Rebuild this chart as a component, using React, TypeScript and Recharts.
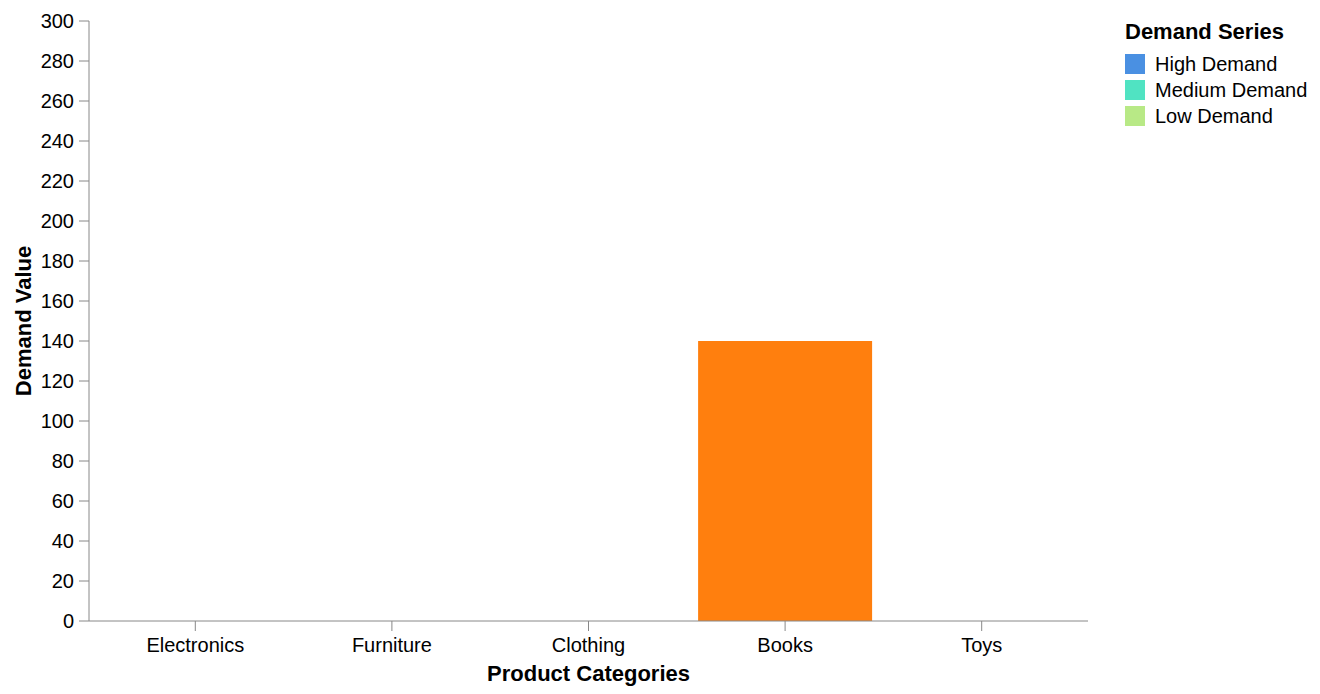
import React from "react";
import { BarChart, Bar, XAxis, YAxis, Label } from "recharts";

const categories = ["Electronics", "Furniture", "Clothing", "Books", "Toys"];
const demandValues: (number | null)[] = [null, null, null, 140, null];
const yTicks = [0, 20, 40, 60, 80, 100, 120, 140, 160, 180, 200, 220, 240, 260, 280, 300];
const legendTitle = "Demand Series";
const legendNames = ["High Demand", "Medium Demand", "Low Demand"];
const legendColors = ["#4a90e2", "#50e3c2", "#b8e986"];

const data = categories.map((c, i) => ({ category: c, value: demandValues[i] }));

const FONT = "'Liberation Sans', Arial, Helvetica, sans-serif";
const AXIS = "#888888";

export default function App() {
  return (
    <div style={{ position: "relative", width: 1312, height: 680, fontFamily: FONT }}>
      <BarChart
        width={1312}
        height={680}
        data={data}
        margin={{ top: 13, right: 232, bottom: 0, left: 0 }}
        barCategoryGap="5.75%"
      >
        <XAxis
          dataKey="category"
          height={67}
          padding={{ left: 8, right: 8 }}
          stroke={AXIS}
          tickSize={10}
          tickMargin={7}
          tick={{ fill: "#000", fontSize: 20, fontFamily: FONT }}
          tickLine={{ stroke: AXIS }}
          axisLine={{ stroke: AXIS, strokeWidth: 1 }}
        >
          <Label
            value="Product Categories"
            position="insideBottom"
            offset={7}
            style={{ fill: "#000", fontSize: 22, fontWeight: "bold", fontFamily: FONT }}
          />
        </XAxis>
        <YAxis
          width={81}
          domain={[0, 300]}
          ticks={yTicks}
          interval={0}
          stroke={AXIS}
          tickSize={10}
          tickMargin={5}
          tick={{ fill: "#000", fontSize: 20, fontFamily: FONT }}
          tickLine={{ stroke: AXIS }}
          axisLine={{ stroke: AXIS }}
        >
          <Label
            content={(props: any) => {
              const vb = props.viewBox || {};
              const cx = 23;
              const cy = vb.y + vb.height / 2;
              return (
                <text
                  x={cx}
                  y={cy}
                  transform={`rotate(-90, ${cx}, ${cy})`}
                  textAnchor="middle"
                  fill="#000"
                  fontSize={22}
                  fontWeight="bold"
                  fontFamily={FONT}
                >
                  Demand Value
                </text>
              );
            }}
          />
        </YAxis>
        <Bar dataKey="value" fill="#ff7f0e" isAnimationActive={false} />
      </BarChart>
      <div style={{ position: "absolute", left: 1117, top: 11, fontFamily: FONT }}>
        <div style={{ fontSize: 22, fontWeight: "bold", color: "#000", lineHeight: "26px", marginBottom: 6 }}>
          {legendTitle}
        </div>
        {legendNames.map((n, i) => (
          <div key={n} style={{ display: "flex", alignItems: "center", height: 26 }}>
            <div style={{ width: 20, height: 20, background: legendColors[i], marginRight: 10 }} />
            <span style={{ fontSize: 20, color: "#000" }}>{n}</span>
          </div>
        ))}
      </div>
    </div>
  );
}
